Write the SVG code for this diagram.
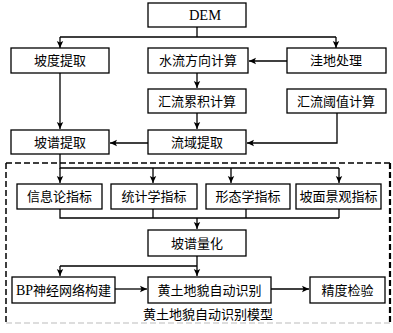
<svg xmlns="http://www.w3.org/2000/svg" width="393" height="333" viewBox="0 0 393 333">
<defs>
<marker id="ah" markerWidth="8" markerHeight="8" refX="7" refY="4" orient="auto" markerUnits="userSpaceOnUse">
<path d="M0,0.8 L7,4 L0,7.2 L1.5,4 Z" fill="#000"/>
</marker>
<style>
.b{fill:#fff;stroke:#000;stroke-width:1.3}
.t{font-family:"Liberation Serif","Noto Sans CJK SC",serif;font-size:13px;text-anchor:middle;fill:#000}
.c{fill:none;stroke:#000;stroke-width:1.3}
.a{fill:none;stroke:#000;stroke-width:1.3;marker-end:url(#ah)}
.d{fill:none;stroke:#000;stroke-width:1.5;stroke-dasharray:6 3}
</style>
</defs>
<rect width="393" height="333" fill="#fff"/>
<g id="frame">
<path class="d" d="M6,163 H390"/>
<path class="d" d="M6,163 V323"/>
<path class="d" d="M390,163 V323" style="stroke-width:2.2"/>
<path class="d" d="M6,323 H390" style="stroke:#bbb;stroke-width:1"/>
<text class="t" x="208" y="319">黄土地貌自动识别模型</text>
</g>
<g id="connectors">
<path class="c" d="M197,27 V37 M60,37 H336"/>
<path class="a" d="M60,37 V48"/>
<path class="a" d="M336,37 V48"/>
<path class="a" d="M287,61 H249"/>
<path class="a" d="M197,73 V88"/>
<path class="a" d="M197,113 V129"/>
<path class="a" d="M337,113 V143 H247"/>
<path class="a" d="M148,143 H110"/>
<path class="a" d="M60,73 V129"/>
<path class="c" d="M60,154 V168 H339"/>
<path class="a" d="M60,168 V183"/>
<path class="a" d="M153,168 V183"/>
<path class="a" d="M231,168 V183"/>
<path class="a" d="M339,168 V183"/>
<path class="c" d="M60,209 V218 H339 M153,209 V218 M246,209 V218 M339,209 V218"/>
<path class="a" d="M197,218 V229"/>
<path class="c" d="M197,256 V266 M60,266 H197"/>
<path class="a" d="M60,266 V276"/>
<path class="a" d="M197,266 V276"/>
<path class="a" d="M115,289 H147"/>
<path class="a" d="M271,289 H309"/>
</g>
<g id="dem"><rect class="b" x="148" y="3" width="98" height="24"/><text class="t" x="205" y="20" style="font-size:14.5px">DEM</text></g>
<g id="podu"><rect class="b" x="11" y="48" width="98" height="25"/><text class="t" x="60" y="65">坡度提取</text></g>
<g id="shuiliu"><rect class="b" x="148" y="48" width="100" height="25"/><text class="t" x="198" y="65">水流方向计算</text></g>
<g id="wadi"><rect class="b" x="287" y="48" width="99" height="25"/><text class="t" x="336" y="65">洼地处理</text></g>
<g id="huiliu"><rect class="b" x="148" y="89" width="98" height="24"/><text class="t" x="197" y="106">汇流累积计算</text></g>
<g id="yuzhi"><rect class="b" x="287" y="89" width="99" height="24"/><text class="t" x="336" y="106">汇流阈值计算</text></g>
<g id="liuyu"><rect class="b" x="148" y="130" width="98" height="24"/><text class="t" x="197" y="147">流域提取</text></g>
<g id="popu"><rect class="b" x="11" y="130" width="98" height="24"/><text class="t" x="60" y="147">坡谱提取</text></g>
<g id="xinxi"><rect class="b" x="17" y="184" width="85" height="25"/><text class="t" x="59.5" y="201">信息论指标</text></g>
<g id="tongji"><rect class="b" x="111" y="184" width="86" height="25"/><text class="t" x="154" y="201">统计学指标</text></g>
<g id="xingtai"><rect class="b" x="206" y="184" width="84" height="25"/><text class="t" x="248" y="201">形态学指标</text></g>
<g id="pomian"><rect class="b" x="296" y="184" width="85" height="25"/><text class="t" x="338.5" y="201">坡面景观指标</text></g>
<g id="lianghua"><rect class="b" x="148" y="230" width="98" height="26"/><text class="t" x="197" y="248">坡谱量化</text></g>
<g id="bp"><rect class="b" x="12" y="277" width="103" height="26"/><text class="t" x="63.5" y="295"><tspan style="font-size:14px">BP</tspan>神经网络构建</text></g>
<g id="shibie"><rect class="b" x="148" y="277" width="123" height="26"/><text class="t" x="209.5" y="295">黄土地貌自动识别</text></g>
<g id="jingdu"><rect class="b" x="310" y="277" width="75" height="26"/><text class="t" x="347.5" y="295">精度检验</text></g>
</svg>
